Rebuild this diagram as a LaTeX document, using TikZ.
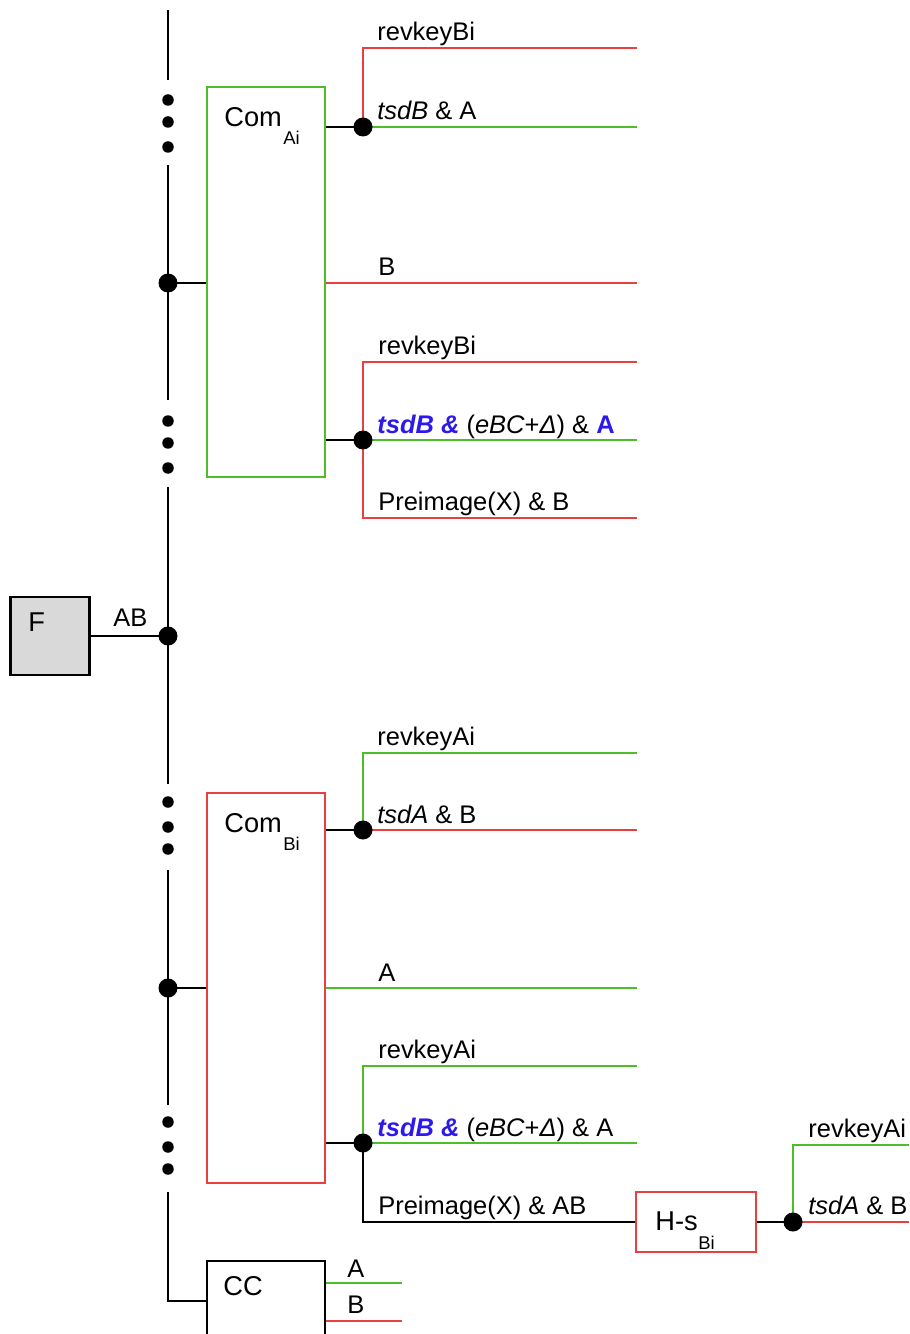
\documentclass[tikz,border=0pt]{standalone}
\usepackage{fontspec}
\setmainfont{Liberation Sans}
\usepackage{tikz}
\usetikzlibrary{positioning,calc}
\usepackage{xcolor}
\definecolor{wgreen}{RGB}{76,190,40}
\definecolor{wred}{RGB}{232,64,64}
\definecolor{wblue}{RGB}{45,25,235}

\begin{document}
\begin{tikzpicture}[x=0.02cm,y=-0.02cm,
  wire/.style={line width=1.35pt},
  gw/.style={wire,draw=wgreen},
  rw/.style={wire,draw=wred},
  blk/.style={draw,line width=1.4pt,inner sep=0},
  jdot/.style={circle,fill,inner sep=0,minimum size=0.38cm},
  lbl/.style={anchor=base west,inner sep=0,font=\fontsize{14.5}{17}\selectfont},
  big/.style={lbl,font=\fontsize{15.5}{18}\selectfont},
  sub/.style={anchor=base west,inner sep=0,font=\fontsize{10.5}{12}\selectfont}]
\clip (0,0) rectangle (909,1334);
% boxes
\node[blk,fill=gray!30,minimum width=1.58cm,minimum height=1.56cm] (F) at (50,636) {};
\node[blk,draw=wgreen,minimum width=2.36cm,minimum height=7.8cm] (comA) at (266,282) {};
\node[blk,draw=wred,minimum width=2.36cm,minimum height=7.8cm] (comB) at (266,988) {};
\node[blk,draw=wred,minimum width=2.4cm,minimum height=1.2cm] (hs) at (696,1222) {};
\node[blk,minimum width=2.36cm,minimum height=1.6cm] (cc) at (266,1301) {};
\node[big] (Ft) at (28,631) {F};
\node[big] (comAt) at (224,127) {Com};
\node[sub] (comAs) at (283,145) {Ai};
\node[big] (comBt) at (224,832) {Com};
\node[sub] (comBs) at (283,850) {Bi};
\node[big] (hst) at (655,1230) {H-s};
\node[sub] (hss) at (698,1249) {Bi};
\node[big] (cct) at (223,1295) {CC};
% junctions and free ends
\coordinate (b0) at (168,636);
\coordinate (jA) at (168,283);
\coordinate (jB) at (168,988);
\coordinate (ja1) at (363,127);
\coordinate (ja2) at (363,440);
\coordinate (jb1) at (363,830);
\coordinate (jb2) at (363,1143);
\coordinate (jh) at (793,1222);
\coordinate (ea0) at (637,48);
\coordinate (ea1) at (637,127);
\coordinate (ea2) at (637,283);
\coordinate (ea3) at (637,362);
\coordinate (ea4) at (637,440);
\coordinate (ea5) at (637,518);
\coordinate (eb0) at (637,753);
\coordinate (eb1) at (637,830);
\coordinate (eb2) at (637,988);
\coordinate (eb3) at (637,1066);
\coordinate (eb4) at (637,1143);
\coordinate (eh0) at (909,1145);
\coordinate (eh1) at (909,1222);
\coordinate (ec0) at (402,1283);
\coordinate (ec1) at (402,1321);
% bus
\foreach \a/\b in {10/80,165/400,487/784,870/1105}
  \draw[wire] (168,\a) -- (168,\b);
\foreach \y in {100,122,147,421,443,468,802,827,849,1122,1147,1169}
  \fill (168,\y) circle (0.115cm);
\draw[wire] (168,1192) |- (cc.west);
\draw[wire] (F.east) -- (b0);
\draw[wire] (jA) -- (comA.west |- jA);
\draw[wire] (jB) -- (comB.west |- jB);
% Com_Ai outputs
\draw[wire] (comA.east |- ja1) -- (ja1);
\draw[rw] (ja1) |- (ea0);
\draw[gw] (ja1) -- (ea1);
\draw[rw] (comA.east |- ea2) -- (ea2);
\draw[wire] (comA.east |- ja2) -- (ja2);
\draw[rw] (ea3) -| (ja2 |- ea5) -- (ea5);
\draw[gw] (ja2) -- (ea4);
% Com_Bi outputs
\draw[wire] (comB.east |- jb1) -- (jb1);
\draw[gw] (jb1) |- (eb0);
\draw[rw] (jb1) -- (eb1);
\draw[gw] (comB.east |- eb2) -- (eb2);
\draw[wire] (comB.east |- jb2) -- (jb2);
\draw[gw] (jb2) |- (eb3);
\draw[gw] (jb2) -- (eb4);
\draw[wire] (jb2) |- (hs.west);
\draw[wire] (hs.east) -- (jh);
\draw[gw] (jh) |- (eh0);
\draw[rw] (jh) -- (eh1);
% CC outputs
\draw[gw] (cc.east |- ec0) -- (ec0);
\draw[rw] (cc.east |- ec1) -- (ec1);
\foreach \j in {b0,jA,jB,ja1,ja2,jb1,jb2,jh}
  \node[jdot] (d\j) at (\j) {};
% labels
\node[lbl] (lab) at (113,626) {AB};
\node[lbl] (la1) at (377,41) {revkeyBi};
\node[lbl] (la2) at (377,120) {\textit{tsdB} \& A};
\node[lbl] (la3) at (378,276) {B};
\node[lbl] (la4) at (378,355) {revkeyBi};
\node[lbl] (la5) at (377,433) {\textcolor{wblue}{\bfseries\itshape tsdB \&} (\textit{eBC}+\textit{Δ}) \& \textcolor{wblue}{\bfseries A}};
\node[lbl] (la6) at (378,510) {Preimage(X) \& B};
\node[lbl] (lb1) at (377,745) {revkeyAi};
\node[lbl] (lb2) at (377,823) {\textit{tsdA} \& B};
\node[lbl] (lb3) at (378,981) {A};
\node[lbl] (lb4) at (378,1058) {revkeyAi};
\node[lbl] (lb5) at (377,1136) {\textcolor{wblue}{\bfseries\itshape tsdB \&} (\textit{eBC}+\textit{Δ}) \& A};
\node[lbl] (lb6) at (378,1214) {Preimage(X) \& AB};
\node[lbl] (lh1) at (808,1137) {revkeyAi};
\node[lbl] (lh2) at (808,1214) {\textit{tsdA} \& B};
\node[lbl] (lc1) at (347,1277) {A};
\node[lbl] (lc2) at (347,1313) {B};
\end{tikzpicture}
\end{document}
